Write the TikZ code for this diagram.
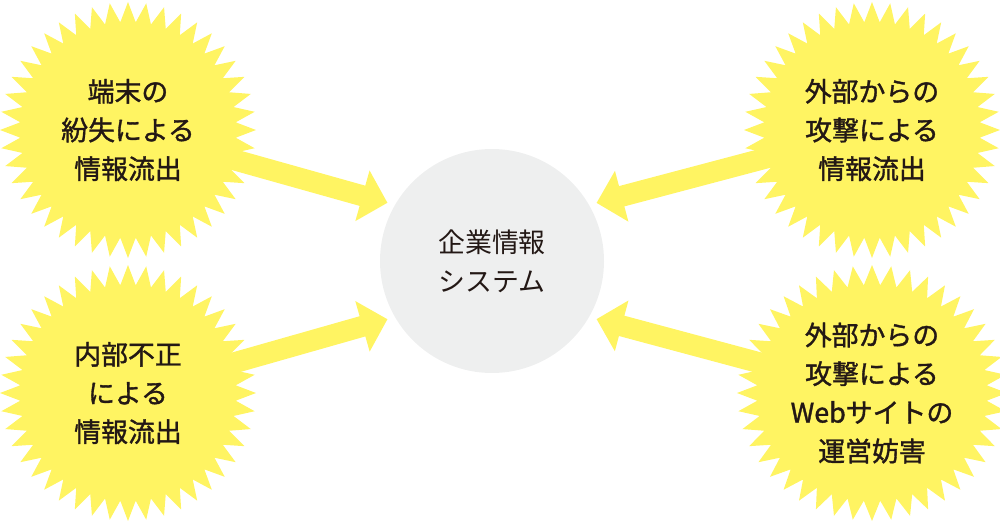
\documentclass[tikz,border=0pt]{standalone}
\usepackage{fontspec}
\newfontfamily\cjk{Noto Sans CJK JP}
\newfontfamily\cjkmed[FakeBold=1.3]{Noto Sans CJK JP}
\usetikzlibrary{shapes.symbols,arrows.meta,backgrounds}
\definecolor{burstyellow}{HTML}{FFF462}
\definecolor{sysgray}{HTML}{EEEFEF}
\definecolor{inkblack}{HTML}{231815}
\tikzset{
  burst/.style={starburst, starburst points=44, starburst point height=0.4cm,
    random starburst=0, fill=burstyellow, draw=none,
    minimum width=5.12cm, minimum height=5.12cm, inner sep=0pt,
    align=center, text=inkblack, font=\cjkmed\fontsize{15.3}{22}\selectfont},
  bolt/.style={draw=burstyellow, line width=0.42cm,
    -{Triangle[length=0.52cm, width=1.02cm]}, shorten >=0.15cm}
}
\begin{document}
\begin{tikzpicture}
        \useasboundingbox (0,0) rectangle (20,10.44);

        % Center system
        \node[circle, fill=sysgray, minimum size=4.48cm, align=center, text=inkblack,
              font=\cjk\fontsize{15.3}{22}\selectfont] (sys) at (9.84,5.22) {企業情報\\システム};

        % Threats
        \node[burst] (lost) at (2.56,7.84) {端末の\\紛失による\\情報流出};
        \node[burst] (inside) at (2.56,2.58) {内部不正\\による\\情報流出};
        \node[burst] (attack) at (17.44,7.84) {外部からの\\攻撃による\\情報流出};
        \node[burst] (web) at (17.44,2.58) {外部からの\\攻撃による\\Webサイトの\\運営妨害};

        % Arrows towards the system
        \begin{scope}[on background layer]
        \draw[bolt] (lost.center) -- (sys.150);
        \draw[bolt] (inside.center) -- (sys.210);
        \draw[bolt] (attack.center) -- (sys.30);
        \draw[bolt] (web.center) -- (sys.330);
        \end{scope}

    \end{tikzpicture}
\end{document}
